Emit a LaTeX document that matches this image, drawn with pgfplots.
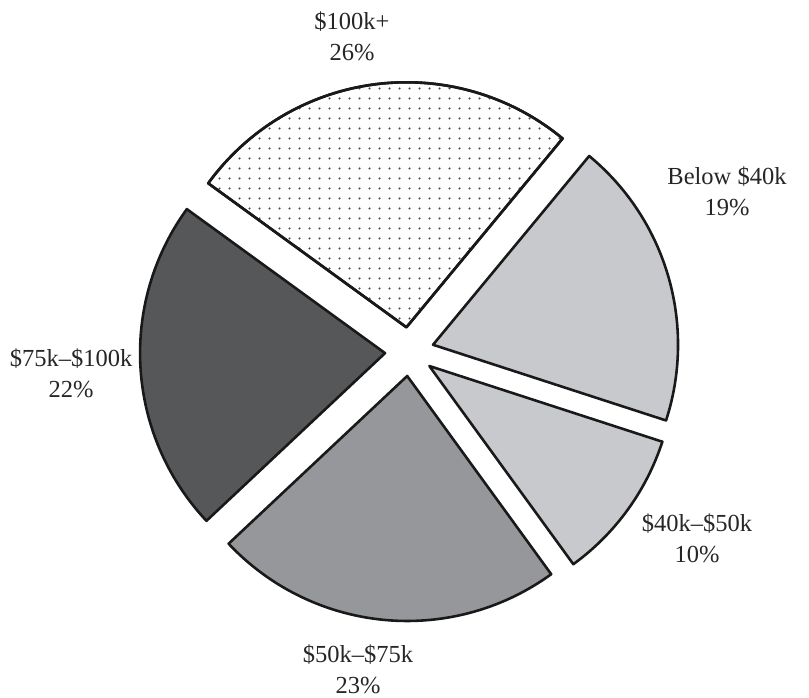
\documentclass[border=0pt]{standalone}
\usepackage{fontspec}
\setmainfont{Liberation Serif}
\usepackage{pgfplots}
\pgfplotsset{compat=1.18}
\usetikzlibrary{patterns.meta}
\definecolor{lightg}{RGB}{200,201,205}
\definecolor{midg}{RGB}{150,151,155}
\definecolor{darkg}{RGB}{86,87,89}
% cumulative percentages: Below $40k 19, $100k+ 26, $75k-$100k 22, $50k-$75k 23, $40k-$50k 10
\newcommand{\slice}[3]{%
\addplot[#3, draw=black!90, line width=2.6pt, line join=round, domain={-18+3.6*#1}:{-18+3.6*#2}, samples=90]
 ({409.5+24.5*cos(-18+1.8*(#1+#2))+245*cos(x)},{346.4+24.5*sin(-18+1.8*(#1+#2))+245*sin(x)})
 -- (axis cs:{409.5+24.5*cos(-18+1.8*(#1+#2))},{346.4+24.5*sin(-18+1.8*(#1+#2))}) -- cycle;}
\begin{document}
\begin{tikzpicture}
\begin{axis}[width=809bp, height=698bp, scale only axis, hide axis, clip=false,
  xmin=0, xmax=809, ymin=0, ymax=698]
\path (axis cs:0,0) rectangle (axis cs:809,698);
\slice{0}{19}{fill=lightg}
\slice{19}{45}{fill=white, postaction={pattern={Dots[distance=10bp, radius=1.3bp]}, pattern color=black!70}}
\slice{45}{67}{fill=darkg}
\slice{67}{90}{fill=midg}
\slice{90}{100}{fill=lightg}
\begin{scope}[every node/.style={align=center, font=\fontsize{24.5bp}{31bp}\selectfont, text=black!85}]
\node at (axis cs:352,662) {\$100k+\\26\%};
\node at (axis cs:727,507) {Below \$40k\\19\%};
\node at (axis cs:697,160) {\$40k--\$50k\\10\%};
\node at (axis cs:358,29) {\$50k--\$75k\\23\%};
\node at (axis cs:71,325) {\$75k--\$100k\\22\%};
\end{scope}
\end{axis}
\end{tikzpicture}
\end{document}
